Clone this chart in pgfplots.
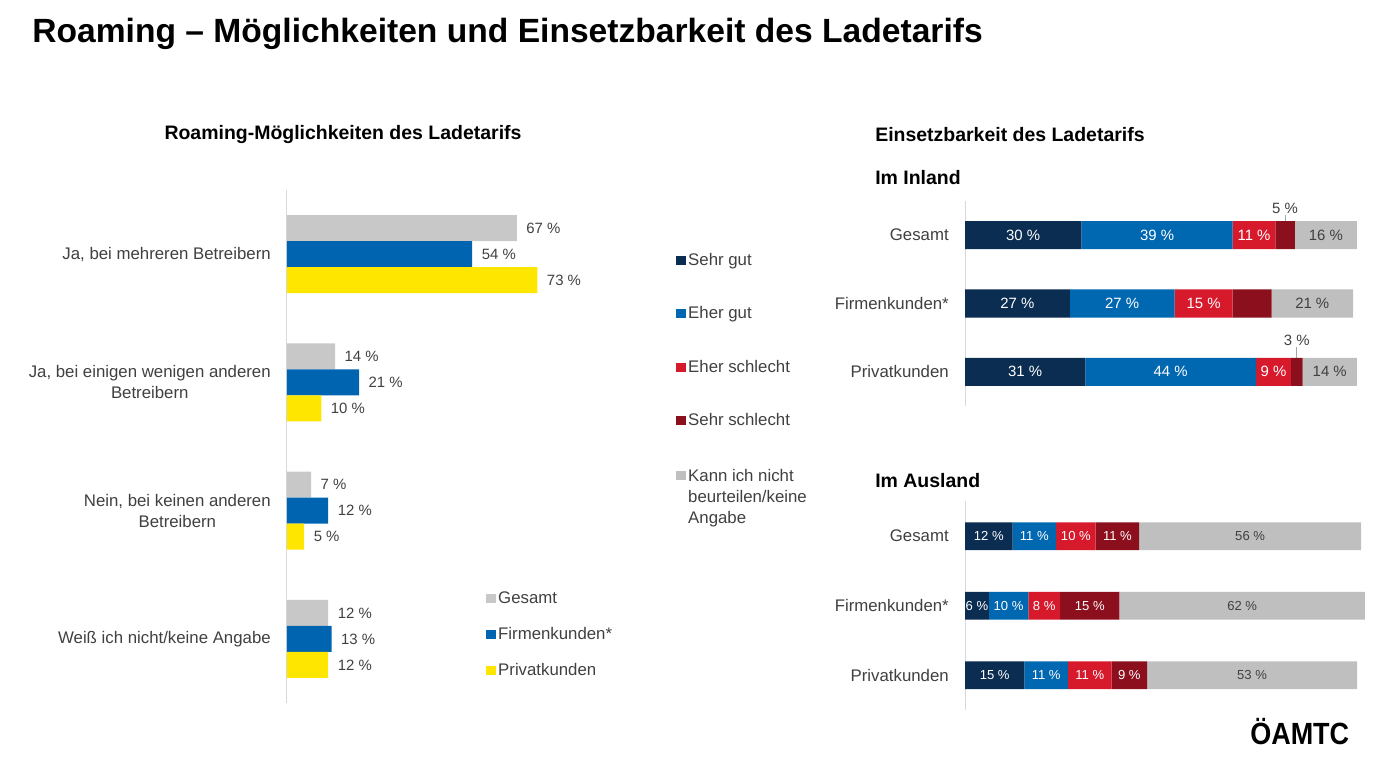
\documentclass[border=0pt]{standalone}
\usepackage{fontspec}
\setmainfont{Liberation Sans}
\newfontfamily\logofont{Liberation Sans}[FakeStretch=0.88]
\usepackage{pgfplots}
\usepackage{pgfplotstable}
\pgfplotsset{compat=1.18}

\newcommand{\bodyfont}{\fontsize{12.6}{15.75}\selectfont}
\newcommand{\valfont}{\fontsize{11.2}{13}\selectfont}
\newcommand{\smallval}{\fontsize{9.8}{11}\selectfont}
\newcommand{\headfont}{\fontsize{14.6}{17}\selectfont\bfseries}

\definecolor{txt}{HTML}{404040}
\definecolor{axline}{HTML}{D9D9D9}
\definecolor{lgray}{HTML}{C8C8C8}
\definecolor{lblue}{HTML}{0064B0}
\definecolor{lyellow}{HTML}{FFE600}
\definecolor{sgut}{HTML}{0B2D52}
\definecolor{egut}{HTML}{0067B1}
\definecolor{eschl}{HTML}{D7192C}
\definecolor{sschl}{HTML}{8C0F1E}
\definecolor{kna}{HTML}{BFBFBF}

% roaming options, 0 = top category
\pgfplotstableread{
cat gesamt firmen privat
0 67 54 73
1 14 21 10
2 7 12 5
3 12 13 12
}\roaming

\pgfplotstableread{
cat sgut egut eschl sschl kna
0 30 39 11 5 16
1 27 27 15 10 21
2 31 44 9 3 14
}\inland

\pgfplotstableread{
cat sgut egut eschl sschl kna
0 12 11 10 11 56
1 6 10 8 15 62
2 15 11 11 9 53
}\ausland

\pgfplotsset{
  hbar/.style={
    scale only axis, anchor=south west,
    y dir=reverse,
    axis x line=none,
    axis y line*=left,
    y axis line style={draw=axline, line width=0.75pt},
    xtick=\empty,
    major tick length=0pt,
    ytick style={draw=none},
    yticklabel style={font=\bodyfont, text=txt, align=center, inner sep=0pt, xshift=-12pt},
    clip=false,
    point meta=explicit symbolic,
    nodes near coords={\pgfplotspointmeta{} \%},
  },
  seg/.style={fill=#1, draw=none},
}

\begin{document}
\begin{tikzpicture}
\path[use as bounding box] (0,0) rectangle (1041.75pt,585pt);

\node[anchor=west, font=\fontsize{25.2}{30}\selectfont\bfseries] at (20.75pt,559.5pt)
  {Roaming – Möglichkeiten und Einsetzbarkeit des Ladetarifs};
\node[font=\headfont] at (257.25pt,483.75pt) {Roaming-Möglichkeiten des Ladetarifs};
\node[anchor=west, font=\headfont, inner sep=0pt] at (656.25pt,483.75pt) {Einsetzbarkeit des Ladetarifs};
\node[anchor=west, font=\headfont, inner sep=0pt] at (656.25pt,451.5pt) {Im Inland};
\node[anchor=west, font=\headfont, inner sep=0pt] at (656.25pt,224.25pt) {Im Ausland};
\node[anchor=base west, inner sep=0pt, font=\logofont\fontsize{23}{26}\selectfont\bfseries] at (937.5pt,26.25pt) {ÖAMTC};

% left: roaming options
\begin{axis}[hbar,
  at={(215.25pt,57.75pt)}, width=257.25pt, height=384.75pt,
  xmin=0, xmax=100, ymin=-0.5, ymax=3.5,
  xbar, bar width=0.203,
  ytick={0,1,2,3},
  yticklabels={{Ja, bei mehreren Betreibern},{Ja, bei einigen wenigen anderen\\Betreibern},{Nein, bei keinen anderen\\Betreibern},{Weiß ich nicht/keine Angabe}},
  nodes near coords style={font=\valfont, text=txt, anchor=west, inner sep=0pt, xshift=7pt},
  legend style={at={(0.58,0.223)}, anchor=north west, draw=none, fill=none,
    font=\bodyfont, text=txt, row sep=12.5pt, inner sep=0pt},
  legend cell align=left,
  legend image code/.code={\fill[#1] (0pt,-3.5pt) rectangle (7pt,3.5pt);},
]
\addplot[seg=lgray, bar shift=-0.203] table[x=gesamt, y=cat, meta=gesamt] {\roaming};
\addlegendentry{Gesamt}
\addplot[seg=lblue, bar shift=0] table[x=firmen, y=cat, meta=firmen] {\roaming};
\addlegendentry{Firmenkunden*}
\addplot[seg=lyellow, bar shift=0.203] table[x=privat, y=cat, meta=privat] {\roaming};
\addlegendentry{Privatkunden}
\end{axis}

% right top: Inland (291pt for 100 units -> half a unit = 1.455pt)
\begin{axis}[hbar,
  at={(723.75pt,280.5pt)}, width=291pt, height=153.75pt,
  xmin=0, xmax=100, ymin=-0.5, ymax=2.5,
  xbar stacked, bar width=0.41,
  ytick={0,1,2},
  yticklabels={Gesamt, Firmenkunden*, Privatkunden},
  every node near coord/.append style={font=\valfont, text=white, anchor=center, inner sep=0pt,
    xshift={-1.455pt*\pgfplotspointmeta}},
  legend style={at={(-0.745,0.76)}, anchor=north west, draw=none, fill=none,
    font=\bodyfont, text=txt, row sep=25.5pt, inner sep=0pt},
  legend cell align=left,
  legend image code/.code={\fill[#1] (0pt,-3.5pt) rectangle (7pt,3.5pt);},
]
\addplot[seg=sgut] table[x=sgut, y=cat, meta=sgut] {\inland};
\addlegendentry{Sehr gut}
\addplot[seg=egut] table[x=egut, y=cat, meta=egut] {\inland};
\addlegendentry{Eher gut}
\addplot[seg=eschl] table[x=eschl, y=cat, meta=eschl] {\inland};
\addlegendentry{Eher schlecht}
% "Sehr schlecht" labels set by hand: the thin segments get theirs above the bar
\addplot[seg=sschl, nodes near coords={}] table[x=sschl, y=cat, meta=sschl] {\inland};
\addlegendentry{Sehr schlecht}
\addplot[seg=kna, every node near coord/.append style={text=txt}] table[x=kna, y=cat, meta=kna] {\inland};
\addlegendentry{\begin{tabular}[t]{@{}l@{}}Kann ich nicht\\beurteilen/keine\\Angabe\end{tabular}}
\node[font=\valfont, text=white, inner sep=0pt] at (axis cs:74,1) {10 \%};
\draw[gray!70, line width=0.5pt] (axis cs:82.5,-0.29) -- (axis cs:82.5,0.19);
\node[font=\valfont, text=txt] at (axis cs:82.5,-0.39) {5 \%};
\draw[gray!70, line width=0.5pt] (axis cs:85.5,1.64) -- (axis cs:85.5,2.19);
\node[font=\valfont, text=txt] at (axis cs:85.5,1.54) {3 \%};
\end{axis}

% right bottom: Ausland (297pt for 100 units -> half a unit = 1.485pt)
\begin{axis}[hbar,
  at={(723.75pt,52.5pt)}, width=297pt, height=156.4pt,
  xmin=0, xmax=100, ymin=-0.5, ymax=2.5,
  xbar stacked, bar width=0.40,
  ytick={0,1,2},
  yticklabels={Gesamt, Firmenkunden*, Privatkunden},
  every node near coord/.append style={font=\smallval, text=white, anchor=center, inner sep=0pt,
    xshift={-1.485pt*\pgfplotspointmeta}},
]
\addplot[seg=sgut] table[x=sgut, y=cat, meta=sgut] {\ausland};
\addplot[seg=egut] table[x=egut, y=cat, meta=egut] {\ausland};
\addplot[seg=eschl] table[x=eschl, y=cat, meta=eschl] {\ausland};
\addplot[seg=sschl] table[x=sschl, y=cat, meta=sschl] {\ausland};
\addplot[seg=kna, every node near coord/.append style={text=txt}] table[x=kna, y=cat, meta=kna] {\ausland};
\end{axis}
\end{tikzpicture}
\end{document}
